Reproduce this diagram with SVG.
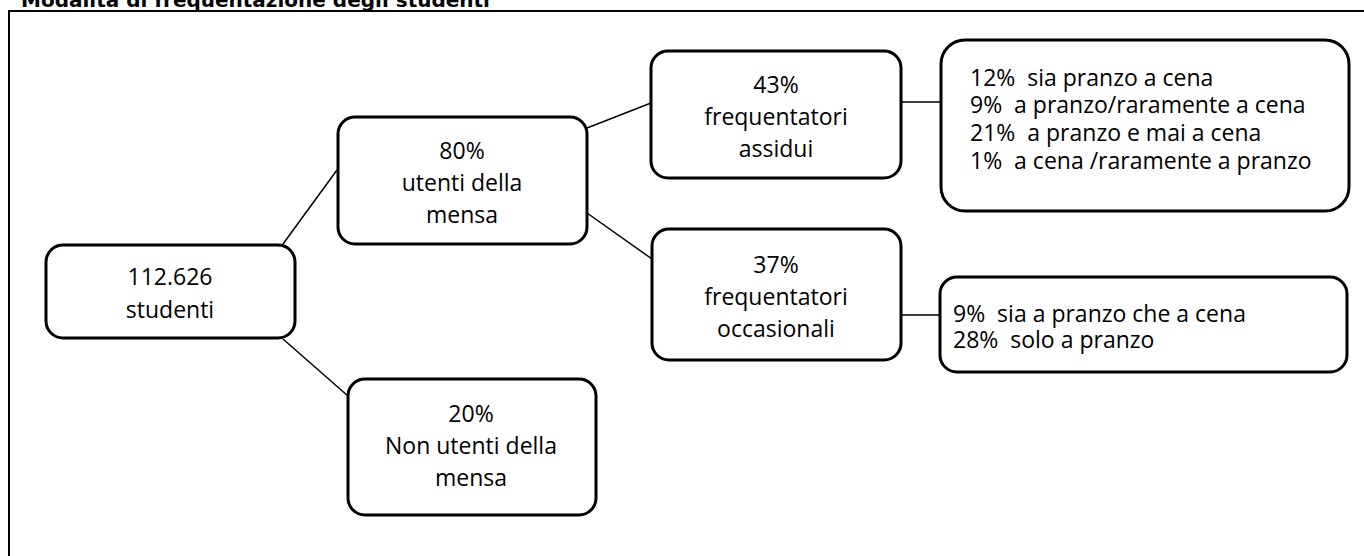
<svg xmlns="http://www.w3.org/2000/svg" width="1364" height="556" viewBox="0 0 1364 556">
<style>
.box{fill:#fff;stroke:#000;stroke-width:3}
.t{font-family:"Open Sans","Liberation Sans",sans-serif;font-size:23px;fill:#000}
.c{text-anchor:middle}
.ln{stroke:#000;stroke-width:1.5;fill:none}
.title{font-family:"DejaVu Sans",Verdana,sans-serif;font-weight:bold;font-size:20px;fill:#000}
</style>
<rect width="1364" height="556" fill="#fff"/>
<text class="title" x="21" y="7">Modalità di frequentazione degli studenti</text>
<rect x="9" y="11" width="1370" height="570" fill="none" stroke="#000" stroke-width="2"/>
<g id="connectors">
<line class="ln" x1="283" y1="244" x2="337" y2="170"/>
<line class="ln" x1="283" y1="339" x2="348" y2="396"/>
<line class="ln" x1="587" y1="128" x2="651" y2="103"/>
<line class="ln" x1="587" y1="213" x2="652" y2="259"/>
<line class="ln" x1="901" y1="102" x2="941" y2="102"/>
<line class="ln" x1="901" y1="315" x2="940" y2="315"/>
</g>
<g id="studenti">
<rect class="box" x="46" y="245" width="249" height="93" rx="17"/>
<text class="t c" x="170" y="285">112.626</text>
<text class="t c" x="170" y="318">studenti</text>
</g>
<g id="utenti">
<rect class="box" x="338" y="117" width="249" height="127" rx="17"/>
<text class="t c" x="462" y="159">80%</text>
<text class="t c" x="462" y="191">utenti della</text>
<text class="t c" x="462" y="223">mensa</text>
</g>
<g id="nonutenti">
<rect class="box" x="348" y="379" width="248" height="136" rx="17"/>
<text class="t c" x="471" y="422">20%</text>
<text class="t c" x="471" y="454">Non utenti della</text>
<text class="t c" x="471" y="486">mensa</text>
</g>
<g id="assidui">
<rect class="box" x="651" y="51" width="250" height="127" rx="17"/>
<text class="t c" x="776" y="93">43%</text>
<text class="t c" x="776" y="125">frequentatori</text>
<text class="t c" x="776" y="157">assidui</text>
</g>
<g id="occasionali">
<rect class="box" x="652" y="229" width="249" height="131" rx="17"/>
<text class="t c" x="776" y="273">37%</text>
<text class="t c" x="776" y="305">frequentatori</text>
<text class="t c" x="776" y="337">occasionali</text>
</g>
<g id="dettaglio-assidui">
<rect class="box" x="941" y="40" width="408" height="171" rx="24"/>
<text class="t" x="970" y="86" xml:space="preserve">12%  sia pranzo a cena</text>
<text class="t" x="970" y="113" xml:space="preserve">9%  a pranzo/raramente a cena</text>
<text class="t" x="970" y="141" xml:space="preserve">21%  a pranzo e mai a cena</text>
<text class="t" x="970" y="169" xml:space="preserve">1%  a cena /raramente a pranzo</text>
</g>
<g id="dettaglio-occasionali">
<rect class="box" x="940" y="277" width="407" height="95" rx="17"/>
<text class="t" x="953" y="322" xml:space="preserve">9%  sia a pranzo che a cena</text>
<text class="t" x="953" y="348" xml:space="preserve">28%  solo a pranzo</text>
</g>
</svg>
